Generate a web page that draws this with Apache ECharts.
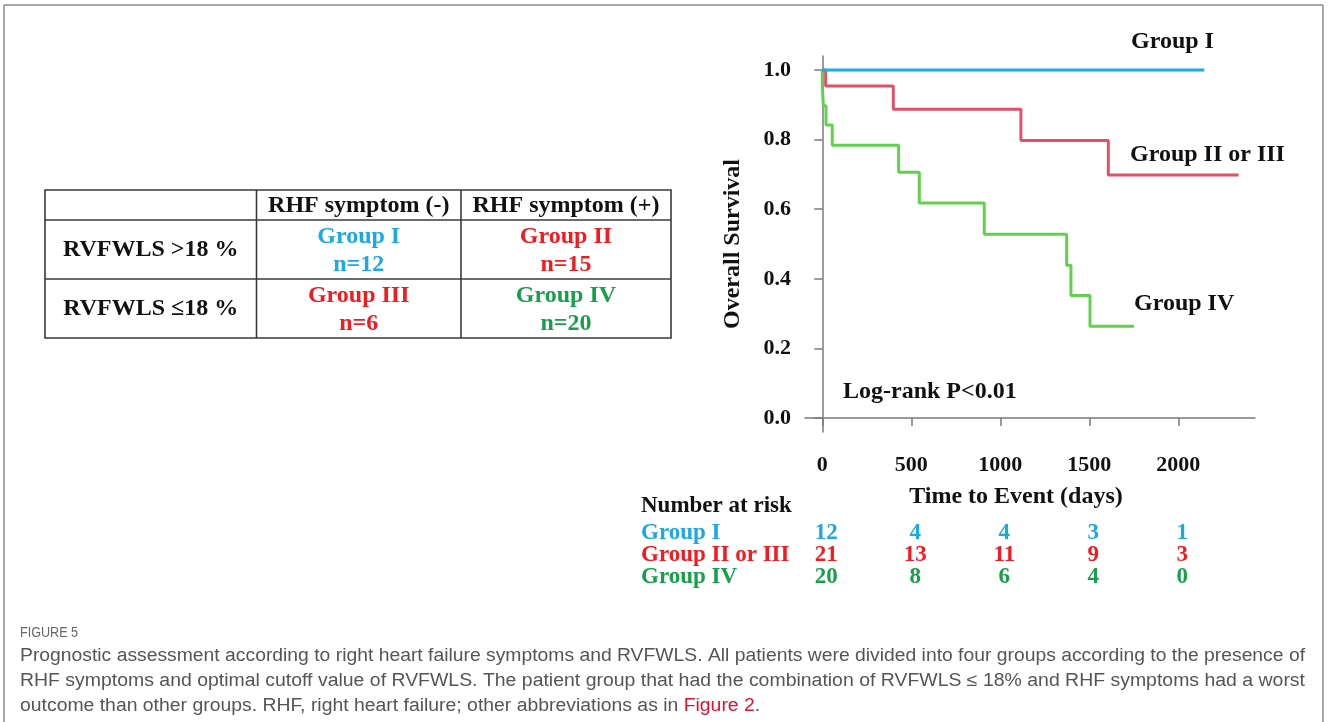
<!DOCTYPE html>
<html><head><meta charset="utf-8">
<script src="https://cdn.jsdelivr.net/npm/echarts@6/dist/echarts.min.js"></script>
<style>html,body{margin:0;padding:0;background:#fff}#c{width:1328px;height:722px}</style>
</head><body><div id="c"></div>
<script>
// ---------- data ----------
const groupNames = ['Group I', 'Group II or III', 'Group IV'];
const survGroupI = [[0, 1], [2146, 1]];
const survGroupIIorIII = [[0, 1], [19, 0.954], [399, 0.887], [1116, 0.797], [1607, 0.698], [2339, 0.698]];
const survGroupIV = [[0, 1], [1, 0.95], [6, 0.897], [21, 0.842], [56, 0.784], [429, 0.706], [545, 0.618], [910, 0.528], [1373, 0.439], [1397, 0.352], [1504, 0.264], [1751, 0.264]];
const xTicks = [0, 500, 1000, 1500, 2000];
const yTicks = [0, 0.2, 0.4, 0.6, 0.8, 1.0];
const riskTimes = [0, 500, 1000, 1500, 2000];
const riskGroupI = [12, 4, 4, 3, 1];
const riskGroupIIorIII = [21, 13, 11, 9, 3];
const riskGroupIV = [20, 8, 6, 4, 0];
const tableHeader = ['RHF symptom (-)', 'RHF symptom (+)'];
const tableRowLabels = ['RVFWLS >18 %', 'RVFWLS \u226418 %'];
const tableGroups = [['Group I', 'Group II'], ['Group III', 'Group IV']];
const tableCounts = [['n=12', 'n=15'], ['n=6', 'n=20']];
const captionTitle = 'FIGURE 5';
const captionLines = [
  'Prognostic assessment according to right heart failure symptoms and RVFWLS. All patients were divided into four groups according to the presence of',
  'RHF symptoms and optimal cutoff value of RVFWLS. The patient group that had the combination of RVFWLS \u2264 18% and RHF symptoms had a worst',
  'outcome than other groups. RHF, right heart failure; other abbreviations as in '
];
const captionLink = 'Figure 2';

// ---------- styles ----------
const SERIF = '"Liberation Serif", "Times New Roman", serif';
const lineColors = ['#1aaee8', '#e0506a', '#5fd14d'];
const textColors = ['#1ba8e4', '#f51a1f', '#17a04a'];
const tableTextColors = [['#1ba8e4', '#f51a1f'], ['#f51a1f', '#17a04a']];
const axisGray = '#7a7a7a';

const chart = echarts.init(document.getElementById('c'), null, {renderer: 'canvas'});

function txt(text, x, y, size, color, align) {
  return {
    type: 'text', x: x, y: y,
    style: {
      text: text, x: 0, y: 0, fill: color,
      font: 'bold ' + size + 'px ' + SERIF,
      textAlign: align || 'center', textVerticalAlign: 'middle',
      align: align || 'center', verticalAlign: 'middle'
    }
  };
}

// ----- table graphics -----
const tL = 45, tR = 671, tT = 190, tB = 338, rowY = [220, 279], colX = [256.5, 461];
const colCenters = [(tL + colX[0]) / 2, (colX[0] + colX[1]) / 2, (colX[1] + tR) / 2];
const graphics = [];
const lineStyle = {stroke: '#3a3a3a', lineWidth: 1.6};
graphics.push({type: 'rect', shape: {x: tL, y: tT, width: tR - tL, height: tB - tT}, style: {fill: null, stroke: '#3a3a3a', lineWidth: 1.6}});
rowY.forEach(y => graphics.push({type: 'line', shape: {x1: tL, y1: y, x2: tR, y2: y}, style: lineStyle}));
colX.forEach(x => graphics.push({type: 'line', shape: {x1: x, y1: tT, x2: x, y2: tB}, style: lineStyle}));
tableHeader.forEach((h, i) => graphics.push(txt(h, colCenters[i + 1], 206, 24, '#111')));
tableRowLabels.forEach((h, r) => graphics.push(txt(h, colCenters[0], r === 0 ? 250 : 309, 24, '#111')));
for (let r = 0; r < 2; r++) {
  for (let c = 0; c < 2; c++) {
    const gy = r === 0 ? 237 : 296;
    graphics.push(txt(tableGroups[r][c], colCenters[c + 1], gy, 24, tableTextColors[r][c]));
    graphics.push(txt(tableCounts[r][c], colCenters[c + 1], gy + 28, 24, tableTextColors[r][c]));
  }
}

// ----- chart annotations -----
graphics.push(txt('Group I', 1131, 42, 24, '#111', 'left'));
graphics.push(txt('Group II or III', 1130, 155, 24, '#111', 'left'));
graphics.push(txt('Group IV', 1134, 304, 24, '#111', 'left'));
graphics.push(txt('Log-rank P<0.01', 843, 392, 24, '#111', 'left'));
graphics.push(txt('Time to Event (days)', 1016, 497, 24, '#111', 'center'));
graphics.push(txt('Number at risk', 641, 506, 23, '#111', 'left'));

// ----- frame -----
graphics.push({type: 'line', shape: {x1: 4, y1: 5, x2: 1323, y2: 5}, style: {stroke: '#8a8a8a', lineWidth: 1.5}});
graphics.push({type: 'line', shape: {x1: 4, y1: 5, x2: 4, y2: 722}, style: {stroke: '#8a8a8a', lineWidth: 1.5}});
graphics.push({type: 'line', shape: {x1: 1323, y1: 5, x2: 1323, y2: 722}, style: {stroke: '#8a8a8a', lineWidth: 1.5}});

// ----- caption -----
const CAPF = '"Liberation Sans", Arial, sans-serif';
const capSize = 18;
const mctx = document.createElement('canvas').getContext('2d');
mctx.font = capSize + 'px ' + CAPF;
const capLeft = 20, capRight = 1305;
const scales = captionLines.slice(0, 2).map(l => (capRight - capLeft) / mctx.measureText(l).width);
const avgScale = (scales[0] + scales[1]) / 2;
graphics.push({type: 'text', x: 20, y: 633, scaleX: 0.9, style: {text: captionTitle, x: 0, y: 0, fill: '#666', font: '14px ' + CAPF, textVerticalAlign: 'middle', verticalAlign: 'middle'}});
const capY = [656, 681, 706];
captionLines.forEach((l, i) => {
  const s = i < 2 ? scales[i] : avgScale;
  const el = {
    type: 'text', x: capLeft, y: capY[i], scaleX: s,
    style: {x: 0, y: 0, fill: '#555', font: capSize + 'px ' + CAPF, textVerticalAlign: 'middle', verticalAlign: 'middle'}
  };
  if (i === 2) {
    el.style.text = '{a|' + l + '}{r|' + captionLink + '}{a|.}';
    el.style.rich = {a: {fill: '#555', font: capSize + 'px ' + CAPF}, r: {fill: '#e0102f', font: capSize + 'px ' + CAPF}};
  } else {
    el.style.text = l;
  }
  graphics.push(el);
});

const riskRows = [riskGroupI, riskGroupIIorIII, riskGroupIV];

const option = {
  backgroundColor: '#fff',
  animation: false,
  grid: [
    {left: 805, top: 56, width: 450, height: 376},
    {left: 805, top: 522, width: 450, height: 66}
  ],
  xAxis: [
    {
      type: 'value', gridIndex: 0, min: -97, max: 2431,
      axisLine: {show: true, lineStyle: {color: axisGray, width: 1.5}},
      axisTick: {show: true, length: 8, lineStyle: {color: axisGray, width: 1.5}, customValues: xTicks},
      axisLabel: {show: true, customValues: xTicks, margin: 22, formatter: v => String(v), color: '#111', fontFamily: SERIF, fontWeight: 'bold', fontSize: 22},
      splitLine: {show: false}
    },
    {type: 'value', gridIndex: 1, min: -97, max: 2431, show: false}
  ],
  yAxis: [
    {
      type: 'value', gridIndex: 0, min: -0.04, max: 1.04,
      name: 'Overall Survival', nameLocation: 'middle', nameGap: 60, nameRotate: 90,
      nameTextStyle: {color: '#111', fontFamily: SERIF, fontWeight: 'bold', fontSize: 24},
      axisLine: {show: true, lineStyle: {color: axisGray, width: 1.5}},
      axisTick: {show: true, length: 8, lineStyle: {color: axisGray, width: 1.5}, customValues: yTicks},
      axisLabel: {show: true, customValues: yTicks, margin: 14, formatter: v => v.toFixed(1), color: '#111', fontFamily: SERIF, fontWeight: 'bold', fontSize: 22},
      splitLine: {show: false}
    },
    {
      type: 'category', gridIndex: 1, data: groupNames, inverse: true,
      axisLine: {show: false}, axisTick: {show: false}, splitLine: {show: false},
      axisLabel: {
        interval: 0, hideOverlap: false,
        align: 'left', margin: 164, fontFamily: SERIF, fontWeight: 'bold', fontSize: 23,
        color: (v, i) => textColors[groupNames.indexOf(v)]
      }
    }
  ],
  series: [
    {name: groupNames[0], type: 'line', xAxisIndex: 0, yAxisIndex: 0, step: 'end', data: survGroupI, showSymbol: false, symbol: 'none', z: 3, lineStyle: {color: lineColors[0], width: 3}, itemStyle: {color: lineColors[0]}},
    {name: groupNames[1], type: 'line', xAxisIndex: 0, yAxisIndex: 0, step: 'end', data: survGroupIIorIII, showSymbol: false, symbol: 'none', z: 2, lineStyle: {color: lineColors[1], width: 3}, itemStyle: {color: lineColors[1]}},
    {name: groupNames[2], type: 'line', xAxisIndex: 0, yAxisIndex: 0, step: 'end', data: survGroupIV, showSymbol: false, symbol: 'none', z: 1, lineStyle: {color: lineColors[2], width: 3}, itemStyle: {color: lineColors[2]}}
  ].concat(riskRows.map((row, g) => ({
    name: groupNames[g] + ' at risk', type: 'scatter', xAxisIndex: 1, yAxisIndex: 1,
    symbolSize: 1, itemStyle: {color: 'rgba(0,0,0,0)', opacity: 1},
    data: riskTimes.map((t, i) => [t, groupNames[g], row[i]]),
    label: {
      show: true, position: 'inside', offset: [4, 0], formatter: p => String(p.data[2]),
      color: textColors[g], fontFamily: SERIF, fontWeight: 'bold', fontSize: 23
    }
  }))),
  graphic: graphics
};
chart.setOption(option);
</script></body></html>
